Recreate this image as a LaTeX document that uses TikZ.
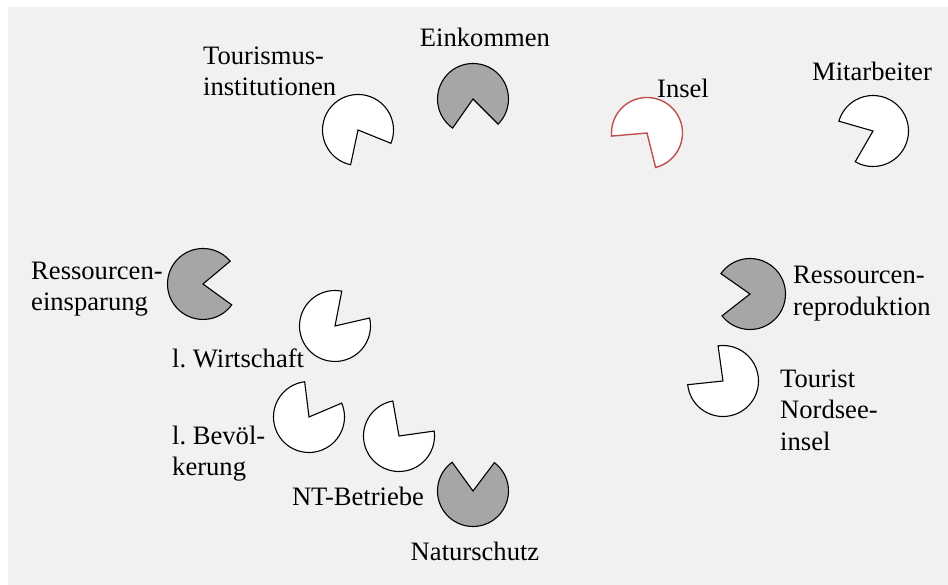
\documentclass[tikz,border=0pt]{standalone}
\usepackage{fontspec}
\setmainfont{Liberation Serif}
\definecolor{bggray}{RGB}{241,241,241}
\definecolor{pacgray}{RGB}{166,166,166}
\definecolor{pacred}{RGB}{192,80,77}
\tikzset{
  lbl/.style={inner sep=0pt, font=\fontsize{26.6}{31.5}\selectfont, align=left},
  pacwhite/.style={draw=black, fill=white, line width=1.1pt, line join=miter},
  pacdark/.style={draw=black, fill=pacgray, line width=1.1pt, line join=miter},
  pacredline/.style={draw=pacred, fill=white, line width=1.4pt, line join=miter}
}
% #1 style, #2 x, #3 y, #4 wedge start, #5 wedge end
\newcommand{\pacman}[5]{%
  \path[#1] (#2,#3) -- ++(#5:\rr) arc[start angle=#5, end angle=#4+360, radius=\rr] -- cycle;}
\begin{document}
\begin{tikzpicture}[x=1pt, y=1pt]
\def\rr{35.5};

\useasboundingbox (0,0) rectangle (948,585);
\fill[bggray] (8,0) rectangle (948,578);

% top row
\pacman{pacwhite}{358}{455}{-102}{-22}
\pacman{pacdark}{473}{486}{-125}{-45}
\pacman{pacredline}{647}{452}{185}{284}
\pacman{pacwhite}{873}{454}{164}{240}

\node[lbl, anchor=west] (tourinst) at (203,513.5) {Tourismus-\\institutionen};
\node[lbl] (einkommen) at (485,548) {Einkommen};
\node[lbl] (insel) at (683,497) {Insel};
\node[lbl] (mitarb) at (872,514) {Mitarbeiter};

% left group
\pacman{pacdark}{203}{301}{-36}{40}
\pacman{pacwhite}{335}{259}{13}{79}
\pacman{pacwhite}{309}{168}{23}{97}
\pacman{pacwhite}{399}{149}{8}{100}
\pacman{pacdark}{473}{94}{53}{126}

\node[lbl, anchor=west] (einsparung) at (31,296) {Ressourcen-\\einsparung};
\node[lbl, anchor=west] (wirtschaft) at (172,227) {l.\ Wirtschaft};
\node[lbl, anchor=west] (bevoelk) at (172,131.5) {l.\ Bevöl-\\kerung};
\node[lbl] (ntbetr) at (358,89) {NT-Betriebe};
\node[lbl] (natur) at (475,34) {Naturschutz};

% right group
\pacman{pacdark}{750}{291}{145}{218}
\pacman{pacwhite}{723}{204}{98}{186}

\node[lbl, anchor=west] (reprod) at (793,291.5) {Ressourcen-\\reproduktion};
\node[lbl, anchor=west] (tourist) at (780,175) {Tourist\\Nordsee-\\insel};

\end{tikzpicture}
\end{document}
